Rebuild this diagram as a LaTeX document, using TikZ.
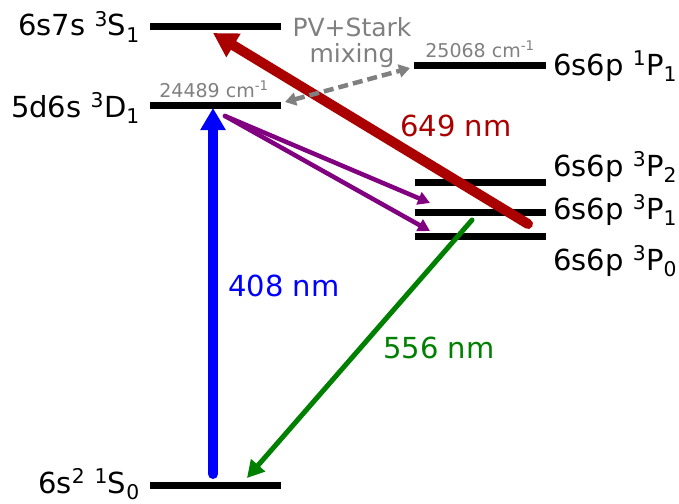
\documentclass[tikz,border=0pt]{standalone}
\usepackage{fontspec}
\setmainfont{DejaVu Sans}
\usepackage{xcolor}
\usetikzlibrary{arrows.meta,positioning}
\definecolor{linered}{HTML}{AA0000}
\definecolor{lineblue}{HTML}{0000FF}
\definecolor{linegreen}{HTML}{008000}
\definecolor{linepurple}{HTML}{800080}
\definecolor{notegray}{HTML}{808080}

\begin{document}
\begin{tikzpicture}[x=1pt, y=-1pt, line cap=round,
  every node/.style={font=\fontsize{29}{33}\selectfont, inner sep=0pt},
  levelbar/.style={line width=7pt, line cap=butt},
  notetext/.style={font=\fontsize{19}{22}\selectfont, text=notegray}]
  \useasboundingbox (0,0) rectangle (679,503);

  % energy levels
  \draw[levelbar] (150,27) coordinate (S1a) -- (281,27) coordinate (S1b);
  \draw[levelbar] (150,105) coordinate (D1a) -- (281,105) coordinate (D1b);
  \draw[levelbar] (150,485) coordinate (S0a) -- (281,485) coordinate (S0b);
  \draw[levelbar] (414,65) coordinate (Pia) -- (546,65) coordinate (Pib);
  \draw[levelbar] (415,182) coordinate (P2a) -- (546,182) coordinate (P2b);
  \draw[levelbar] (415,212) coordinate (P1a) -- (546,212) coordinate (P1b);
  \draw[levelbar] (415,236) coordinate (P0a) -- (546,236) coordinate (P0b);

  \node[anchor=base east] (S1lbl) at (140,36) {6s7s \textsuperscript{3}S\textsubscript{1}};
  \node[anchor=base east] (D1lbl) at (140,117) {5d6s \textsuperscript{3}D\textsubscript{1}};
  \node[anchor=base east] (S0lbl) at (140,493) {6s\textsuperscript{2} \textsuperscript{1}S\textsubscript{0}};
  \node[anchor=base west] (Pilbl) at (553,75) {6s6p \textsuperscript{1}P\textsubscript{1}};
  \node[anchor=base west] (P2lbl) at (553,176) {6s6p \textsuperscript{3}P\textsubscript{2}};
  \node[anchor=base west] (P1lbl) at (553,219) {6s6p \textsuperscript{3}P\textsubscript{1}};
  \node[anchor=base west] (P0lbl) at (553,270) {6s6p \textsuperscript{3}P\textsubscript{0}};

  \node[notetext, anchor=base] (D1cm) at (214,97) {24489 cm\textsuperscript{-1}};
  \node[notetext, anchor=base] (Picm) at (480,57) {25068 cm\textsuperscript{-1}};
  \node[font=\fontsize{25}{26}\selectfont, text=notegray, align=center] (mix) at (352,43) {PV+Stark\\mixing};

  % transitions
  \coordinate (blueA) at (213,474);
  \coordinate (blueB) at (213,108);
  \coordinate (redA) at (528,224);
  \coordinate (redB) at (213,33);
  \coordinate (purA) at (225,116);
  \coordinate (purB) at (430,203);
  \coordinate (purC) at (430,231);
  \coordinate (greenA) at (472,220);
  \coordinate (greenB) at (247,478);
  \coordinate (mixA) at (285,102);
  \coordinate (mixB) at (410,68);

  \draw[-{Triangle[length=22pt,width=24pt]}, line width=10pt, lineblue] (blueA) -- (blueB);
  \draw[-{Triangle[length=12pt,width=13pt]}, line width=4.5pt, linepurple] (purA) -- (purB);
  \draw[-{Triangle[length=12pt,width=13pt]}, line width=4.5pt, linepurple] (purA) -- (purC);
  \draw[-{Triangle[length=17pt,width=18pt]}, line width=5pt, linegreen] (greenA) -- (greenB);
  \draw[-{Triangle[length=24pt,width=26pt]}, line width=10pt, linered] (redA) -- (redB);
  \draw[{Triangle[length=11pt,width=13pt]}-{Triangle[length=11pt,width=13pt]}, line width=4.5pt, line cap=butt, dash pattern=on 10pt off 5pt, notegray] (mixA) -- (mixB);

  \node[anchor=base west, text=linered] (redlbl) at (400,136) {649 nm};
  \node[anchor=base west, text=lineblue] (bluelbl) at (228,296) {408 nm};
  \node[anchor=base west, text=linegreen] (greenlbl) at (383,358) {556 nm};
\end{tikzpicture}
\end{document}
